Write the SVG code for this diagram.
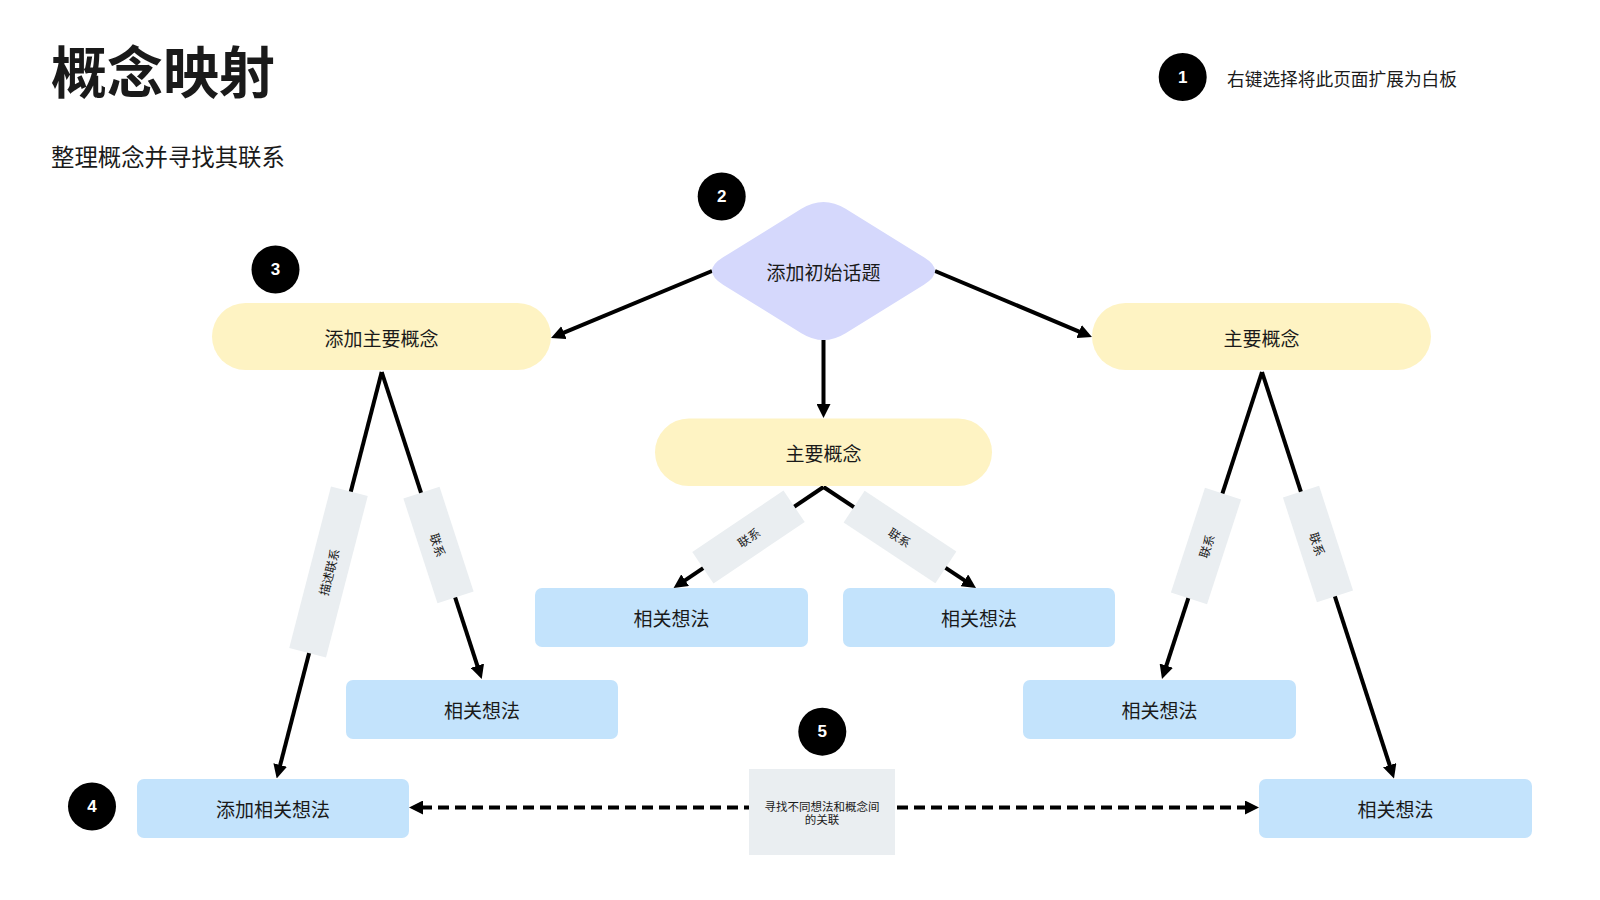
<svg xmlns="http://www.w3.org/2000/svg" width="1600" height="900" viewBox="0 0 1600 900">
<defs>
<marker id="arrow" markerUnits="userSpaceOnUse" markerWidth="14" markerHeight="14" refX="2" refY="7" orient="auto-start-reverse">
<path d="M0,0 L14,7 L0,14 Z" fill="#000"/>
</marker>
<style>
.t{font-family:"Noto Sans CJK SC","Noto Sans",sans-serif;fill:#1a1a1a;}
.node{font-size:19px;text-anchor:middle;dominant-baseline:central;}
.lbl{font-size:12px;text-anchor:middle;dominant-baseline:central;}
.note{font-size:11.5px;text-anchor:middle;dominant-baseline:central;}
.pill{fill:#FEF3C3;}
.blue{fill:#C3E3FC;}
.gray{fill:#EAEEF1;}
.conn{stroke:#000;stroke-width:4;fill:none;marker-end:url(#arrow);}
.dash{stroke:#000;stroke-width:4;fill:none;stroke-dasharray:11 6;marker-start:url(#arrow);marker-end:url(#arrow);}
.badge circle{fill:#000;}
.badge text{font-family:"Liberation Sans",Arial,sans-serif;font-weight:700;font-size:17px;fill:#fff;text-anchor:middle;dominant-baseline:central;}
</style>
</defs>
<rect width="1600" height="900" fill="#fff"/>

<g id="title">
<text class="t" x="51" y="93" font-size="56" font-weight="700" fill="#000">概念映射</text>
<text class="t" x="51" y="166" font-size="23.4">整理概念并寻找其联系</text>
</g>

<g id="badge1" class="badge"><circle cx="1182.7" cy="77" r="24"/><text x="1182.7" y="77">1</text></g>
<g id="hint1"><text class="t" x="1227" y="86" font-size="17.7">右键选择将此页面扩展为白板</text></g>
<g id="badge2" class="badge"><circle cx="721.7" cy="196.5" r="24"/><text x="721.7" y="196.5">2</text></g>
<g id="badge3" class="badge"><circle cx="275.5" cy="269.5" r="24"/><text x="275.5" y="269.5">3</text></g>
<g id="badge4" class="badge"><circle cx="92" cy="806.5" r="24"/><text x="92" y="806.5">4</text></g>
<g id="badge5" class="badge"><circle cx="822.3" cy="731.7" r="24"/><text x="822.3" y="731.7">5</text></g>

<g id="connectors">
<line class="conn" x1="712" y1="271" x2="562.1" y2="333.4"/>
<line class="conn" x1="935" y1="271" x2="1080.9" y2="332.3"/>
<line class="conn" x1="823.5" y1="340" x2="823.5" y2="406"/>
<line class="conn" x1="381.7" y1="372" x2="279.7" y2="766.9"/>
<line class="conn" x1="381.7" y1="372" x2="478" y2="667.6"/>
<line class="conn" x1="823.5" y1="487" x2="683.5" y2="581.3"/>
<line class="conn" x1="823.5" y1="487" x2="966" y2="581.4"/>
<line class="conn" x1="1262" y1="372" x2="1165.7" y2="667.6"/>
<line class="conn" x1="1262" y1="372" x2="1390.3" y2="767.1"/>
<line class="dash" x1="421" y1="807.5" x2="1247" y2="807.5"/>
<g id="label-ll" transform="translate(328.5,572) rotate(-75.52)"><rect class="gray" x="-83.5" y="-19" width="167" height="38"/><text class="t lbl" x="0" y="0">描述联系</text></g>
<g id="label-lr" transform="translate(438.5,545) rotate(71.96)"><rect class="gray" x="-55" y="-19" width="110" height="38"/><text class="t lbl" x="0" y="0">联系</text></g>
<g id="label-cl" transform="translate(748.5,537) rotate(-33.96)"><rect class="gray" x="-55" y="-19" width="110" height="38"/><text class="t lbl" x="0" y="0">联系</text></g>
<g id="label-cr" transform="translate(900,537) rotate(33.51)"><rect class="gray" x="-55" y="-19" width="110" height="38"/><text class="t lbl" x="0" y="0">联系</text></g>
<g id="label-rl" transform="translate(1206,546) rotate(-71.96)"><rect class="gray" x="-55" y="-19" width="110" height="38"/><text class="t lbl" x="0" y="0">联系</text></g>
<g id="label-rr" transform="translate(1318,544) rotate(72.01)"><rect class="gray" x="-55" y="-19" width="110" height="38"/><text class="t lbl" x="0" y="0">联系</text></g>
</g>

<g id="topic">
<path d="M723.06,257.32 L801.39,208.84 Q823.5,195.16 845.61,208.84 L923.94,257.32 Q946.05,271 923.94,284.68 L845.61,333.16 Q823.5,346.84 801.39,333.16 L723.06,284.68 Q700.95,271 723.06,257.32 Z" fill="#D5D8FC"/>
<text class="t node" x="823.5" y="271">添加初始话题</text>
</g>

<g id="concept-left"><rect class="pill" x="212" y="303" width="339" height="67" rx="33.5"/><text class="t node" x="381.5" y="337">添加主要概念</text></g>
<g id="concept-right"><rect class="pill" x="1092" y="303" width="339" height="67" rx="33.5"/><text class="t node" x="1261.5" y="337">主要概念</text></g>
<g id="concept-center"><rect class="pill" x="655" y="418.5" width="337" height="67.5" rx="33.75"/><text class="t node" x="823.5" y="452">主要概念</text></g>

<g id="idea-cl"><rect class="blue" x="535" y="588" width="273" height="59" rx="7"/><text class="t node" x="671.5" y="617.5">相关想法</text></g>
<g id="idea-cr"><rect class="blue" x="843" y="588" width="272" height="59" rx="7"/><text class="t node" x="979" y="617.5">相关想法</text></g>
<g id="idea-l"><rect class="blue" x="346" y="680" width="272" height="59" rx="7"/><text class="t node" x="482" y="709.5">相关想法</text></g>
<g id="idea-r"><rect class="blue" x="1023" y="680" width="273" height="59" rx="7"/><text class="t node" x="1159.5" y="709.5">相关想法</text></g>
<g id="idea-bl"><rect class="blue" x="137" y="779" width="272" height="59" rx="7"/><text class="t node" x="273" y="808.5">添加相关想法</text></g>
<g id="idea-br"><rect class="blue" x="1259" y="779" width="273" height="59" rx="7"/><text class="t node" x="1395.5" y="808.5">相关想法</text></g>

<g id="note5">
<rect class="gray" x="749" y="769" width="146" height="86"/>
<text class="t note" x="822" y="805.5">寻找不同想法和概念间</text>
<text class="t note" x="822" y="819">的关联</text>
</g>
</svg>
